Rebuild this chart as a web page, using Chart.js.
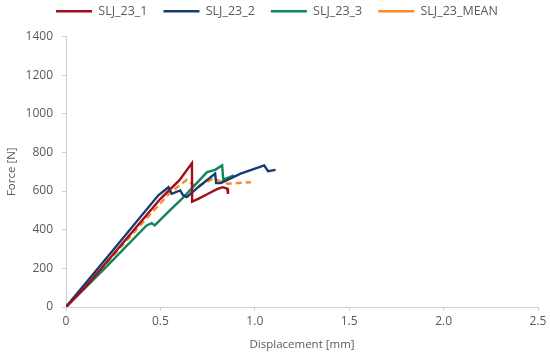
<!DOCTYPE html>
<html>
<head>
<meta charset="utf-8">
<script src="https://cdn.jsdelivr.net/npm/chart.js@4"></script>
<style>
  html, body { margin: 0; padding: 0; background: #fff; }
  #wrap { width: 550px; height: 356px; }
</style>
</head>
<body>
<div id="wrap"><canvas id="chart"></canvas></div>
<script>
// displacement [mm] / force [N]
const sljX1 = [0, 0.1, 0.3, 0.5, 0.6, 0.667, 0.668, 0.7, 0.75, 0.8, 0.83, 0.855, 0.858];
const sljY1 = [0, 100, 330, 560, 655, 745, 545, 560, 585, 610, 620, 612, 585];

const sljX2 = [0, 0.25, 0.489, 0.543, 0.56, 0.605, 0.62, 0.64, 0.7, 0.79, 0.795, 0.82, 0.925, 1.05, 1.07, 1.11];
const sljY2 = [0, 295, 578, 620, 586, 603, 578, 569, 620, 690, 641, 641, 690, 733, 703, 710];

const sljX3 = [0, 0.2, 0.427, 0.454, 0.47, 0.55, 0.623, 0.747, 0.79, 0.827, 0.833, 0.86, 0.89];
const sljY3 = [0, 195, 422, 434, 422, 500, 569, 698, 710, 733, 659, 670, 681];

const meanX = [0, 0.2, 0.4, 0.55, 0.64, 0.69, 0.78, 0.854, 0.98];
const meanY = [0, 210, 430, 590, 658, 620, 664, 638, 646];

const xTicks = [0, 0.5, 1, 1.5, 2, 2.5];
const yTicks = [0, 200, 400, 600, 800, 1000, 1200, 1400];

const pts = (xs, ys) => xs.map((x, i) => ({ x: x, y: ys[i] }));

const txt = "#595959";
const axisLine = "#d0d0d0";
const fontFam = "'Open Sans', 'DejaVu Sans', sans-serif";

function line(label, data, color, dash) {
  return {
    label,
    data,
    showLine: true,
    borderColor: color,
    backgroundColor: color,
    borderWidth: 2.4,
    borderDash: dash || [],
    pointRadius: 0,
    tension: 0
  };
}

// nudge the legend a little to the right, like the original
const legendShift = {
  id: "legendShift",
  afterLayout(chart) {
    chart.legend.left += 8;
    chart.legend.right += 8;
  }
};

new Chart(document.getElementById("chart"), {
  type: "scatter",
  data: {
    datasets: [
      line("SLJ_23_1", pts(sljX1, sljY1), "#a00d1c"),
      line("SLJ_23_2", pts(sljX2, sljY2), "#163d6e"),
      line("SLJ_23_3", pts(sljX3, sljY3), "#11845a"),
      line("SLJ_23_MEAN", pts(meanX, meanY), "#f98a2e", [6, 4])
    ]
  },
  plugins: [legendShift],
  options: {
    responsive: true,
    maintainAspectRatio: false,
    animation: false,
    layout: { padding: { left: 0, right: 12, top: -11, bottom: 0 } },
    plugins: {
      tooltip: { enabled: false },
      // empty title used only as a spacer under the legend
      title: { display: true, text: "", weight: 500, font: { size: 1, lineHeight: 1 }, padding: { top: 0, bottom: 8 } },
      legend: {
        position: "top",
        labels: {
          usePointStyle: true,
          pointStyle: "line",
          pointStyleWidth: 36,
          boxHeight: 12,
          color: txt,
          font: { family: fontFam, size: 12.5 },
          padding: 16
        }
      }
    },
    scales: {
      x: {
        type: "linear",
        min: 0,
        max: 2.5,
        afterBuildTicks: axis => { axis.ticks = xTicks.map(v => ({ value: v })); },
        afterFit: axis => { axis.height = 49; },
        ticks: { color: txt, font: { family: fontFam, size: 12 }, padding: 3 },
        grid: { drawOnChartArea: false, drawTicks: true, tickLength: 4, color: axisLine },
        border: { color: axisLine },
        title: { display: true, text: "Displacement [mm]", color: txt, font: { family: fontFam, size: 11.5 }, padding: { top: 3 } }
      },
      y: {
        type: "linear",
        min: 0,
        max: 1400,
        afterBuildTicks: axis => { axis.ticks = yTicks.map(v => ({ value: v })); },
        afterFit: axis => { axis.width = 66; },
        ticks: { color: txt, font: { family: fontFam, size: 12 }, padding: 9, callback: v => String(v) },
        grid: { drawOnChartArea: false, drawTicks: true, tickLength: 4, color: axisLine },
        border: { color: axisLine },
        title: { display: true, text: "Force [N]", color: txt, font: { family: fontFam, size: 11.5 }, padding: { top: 5, bottom: 2 } }
      }
    }
  }
});
</script>
</body>
</html>
